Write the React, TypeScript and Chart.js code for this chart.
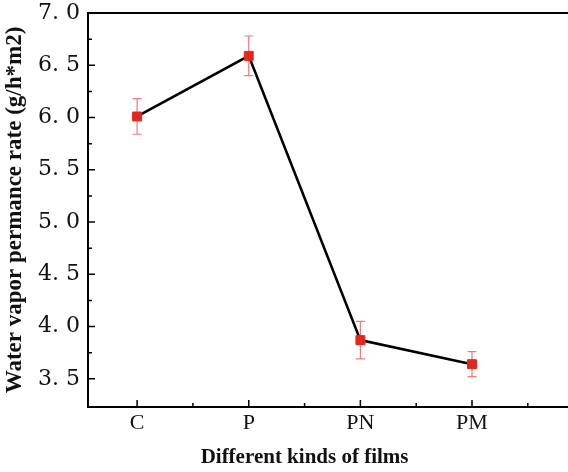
import React, { useEffect, useRef } from "react";
import { Chart, registerables } from "chart.js";

Chart.register(...registerables);

const categories = ["C", "P", "PN", "PM"];
const values = [6.01, 6.59, 3.87, 3.64];
const errors = [0.17, 0.19, 0.18, 0.12];
const yTicks = [3.5, 4.0, 4.5, 5.0, 5.5, 6.0, 6.5, 7.0];
const yTitle = "Water vapor permance rate (g/h*m2)";
const xTitle = "Different kinds of films";

const framePlugin = {
  id: "frameAndTicks",
  beforeDatasetsDraw(chart: any) {
    const { ctx, scales } = chart;
    const xs = scales.x;
    const ys = scales.y;
    ctx.save();
    ctx.strokeStyle = "#f07a7a";
    ctx.lineWidth = 1.2;
    values.forEach((v, i) => {
      const px = xs.getPixelForValue(i);
      const top = ys.getPixelForValue(v + errors[i]);
      const bot = ys.getPixelForValue(v - errors[i]);
      ctx.beginPath();
      ctx.moveTo(px, top);
      ctx.lineTo(px, bot);
      ctx.moveTo(px - 4.5, top);
      ctx.lineTo(px + 4.5, top);
      ctx.moveTo(px - 4.5, bot);
      ctx.lineTo(px + 4.5, bot);
      ctx.stroke();
    });
    ctx.restore();
  },
  afterDraw(chart: any) {
    const { ctx, chartArea, scales } = chart;
    const xs = scales.x;
    const ys = scales.y;
    const { left, top, right, bottom } = chartArea;
    ctx.save();
    ctx.strokeStyle = "#000";
    ctx.lineWidth = 2;
    ctx.beginPath();
    ctx.moveTo(right + 2, top);
    ctx.lineTo(left, top);
    ctx.lineTo(left, bottom);
    ctx.lineTo(right + 2, bottom);
    ctx.stroke();
    ctx.lineWidth = 1.5;
    ctx.beginPath();
    yTicks.forEach((v) => {
      const py = ys.getPixelForValue(v);
      ctx.moveTo(left, py);
      ctx.lineTo(left + 7, py);
      const pm = ys.getPixelForValue(v + 0.25);
      if (pm > top + 2) {
        ctx.moveTo(left, pm);
        ctx.lineTo(left + 4, pm);
      }
    });
    categories.forEach((_, i) => {
      const px = xs.getPixelForValue(i);
      ctx.moveTo(px, bottom);
      ctx.lineTo(px, bottom - 7);
      const pm = xs.getPixelForValue(i + 0.5);
      if (pm < right - 2) {
        ctx.moveTo(pm, bottom);
        ctx.lineTo(pm, bottom - 4);
      }
    });
    ctx.stroke();
    // x axis title, centred under the categories' span
    ctx.fillStyle = "#111";
    ctx.font = "bold 21px 'Liberation Serif', serif";
    ctx.textAlign = "center";
    ctx.textBaseline = "middle";
    const cx = (xs.getPixelForValue(-0.44) + xs.getPixelForValue(3.44)) / 2;
    ctx.fillText(xTitle, cx, chart.height - 14);
    ctx.restore();
  },
};

export default function App() {
  const ref = useRef<HTMLCanvasElement | null>(null);
  useEffect(() => {
    if (!ref.current) return;
    const chart = new Chart(ref.current, {
      type: "line",
      data: {
        datasets: [
          {
            data: values.map((v, i) => ({ x: i, y: v })),
            borderColor: "#000",
            borderWidth: 2.6,
            pointStyle: "rect",
            pointRadius: 6.3,
            pointBackgroundColor: "#e3261e",
            pointBorderColor: "#e3261e",
            pointBorderWidth: 1,
            tension: 0,
          },
        ],
      },
      options: {
        animation: false,
        responsive: true,
        maintainAspectRatio: false,
        layout: { autoPadding: false, padding: { top: 13, right: 0, left: 0, bottom: 0 } },
        plugins: { legend: { display: false }, tooltip: { enabled: false } },
        scales: {
          x: {
            type: "linear",
            min: -0.44,
            max: 3.86,
            afterBuildTicks: (s: any) => {
              s.ticks = categories.map((_, i) => ({ value: i }));
            },
            afterFit: (s: any) => {
              s.height = 65;
            },
            grid: { display: false, drawTicks: false },
            border: { display: false },
            ticks: {
              padding: 3,
              color: "#111",
              font: { family: "'Liberation Serif', serif", size: 22 },
              callback: (v: any) => categories[v as number] ?? "",
            },
            title: { display: false },
          },
          y: {
            type: "linear",
            min: 3.23,
            max: 7.0,
            afterBuildTicks: (s: any) => {
              s.ticks = yTicks.map((v) => ({ value: v }));
            },
            afterFit: (s: any) => {
              s.width = 88;
            },
            grid: { display: false, drawTicks: false },
            border: { display: false },
            ticks: {
              padding: 8,
              color: "#111",
              font: { family: "'DejaVu Serif', serif", size: 22, lineHeight: 0.4 },
              callback: (v: any) => (v as number).toFixed(1).replace(".", ". "),
            },
            title: {
              display: true,
              text: yTitle,
              color: "#111",
              font: { family: "'Liberation Serif', serif", size: 23, weight: "bold" },
              padding: { top: 1, bottom: 0 },
            },
          },
        },
      },
      plugins: [framePlugin],
    });
    return () => chart.destroy();
  }, []);
  return (
    <div style={{ position: "fixed", left: 0, top: 0, width: 568, height: 472, background: "#fff" }}>
      <canvas ref={ref} />
    </div>
  );
}
